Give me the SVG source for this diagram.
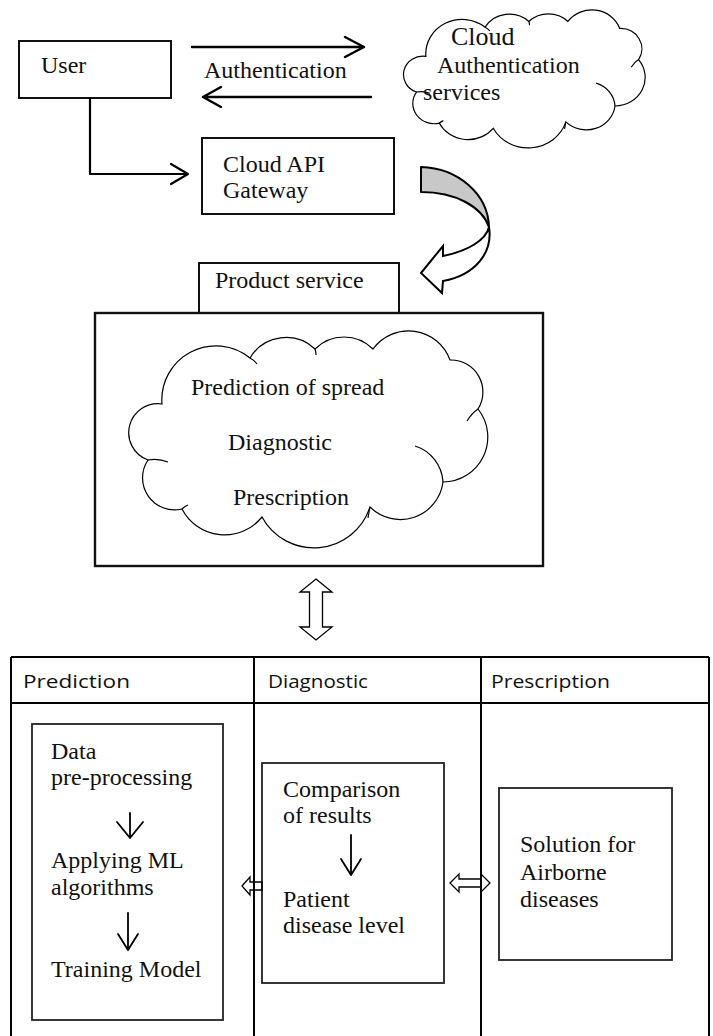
<svg xmlns="http://www.w3.org/2000/svg" xmlns:xlink="http://www.w3.org/1999/xlink" width="713" height="1036" viewBox="0 0 713 1036">
<style>
.serif{font-family:"Liberation Serif","Times New Roman",serif;font-size:24px;fill:#111}
.sans{font-family:"Open Sans","Noto Sans",sans-serif;font-size:18px;fill:#111}
.box{fill:#fff;stroke:#111;stroke-width:2}
.ibox{fill:#fff;stroke:#222;stroke-width:1.8}
.line{fill:none;stroke:#000;stroke-width:2.4;stroke-linecap:round;stroke-linejoin:round}
.thin{fill:none;stroke:#000;stroke-width:1.8;stroke-linecap:round;stroke-linejoin:round}
.cl{fill:#fff;stroke:#000;stroke-width:1.2;vector-effect:non-scaling-stroke}
.cls{fill:none;stroke:#000;stroke-width:1.2;vector-effect:non-scaling-stroke}
.block{fill:none;stroke:#000;stroke-width:1.3;stroke-linejoin:miter}
.grid{fill:none;stroke:#000;stroke-width:2}
</style>
<defs>
<g id="cloudShape">
<path class="cl" d="M162,404 A54,54 0 0 1 250,358 A42,42 0 0 1 315,349 A41,41 0 0 1 373,349 A44,44 0 0 1 450,360 A32,32 0 0 1 478,409 A45,45 0 0 1 443,482 A43,43 0 0 1 370,507 A59,59 0 0 1 262,517 A48,48 0 0 1 182,509 A32,32 0 0 1 148,460 A29,29 0 0 1 162,404 Z"/>
<path class="cls" d="M415,446 A40,40 0 0 1 443,482 M148,460 Q158,458 168,462 M182,509 Q185,506 188,505 M250,358 Q254,360 257,364 M478,409 Q472,413 467,421 M370,507 Q369,512 368,518 M315,349 Q316,352 316,355"/>
</g>
</defs>

<g id="user">
<rect class="box" x="19" y="41" width="152" height="57"/>
<text class="serif" x="41" y="73">User</text>
</g>

<g id="auth-cloud">
<use xlink:href="#cloudShape" transform="translate(403,10) scale(0.6731,0.6359) translate(-128,-331)"/>
<text class="serif" x="451" y="45" style="font-size:26px">Cloud</text>
<text class="serif" x="437" y="73">Authentication</text>
<text class="serif" x="423" y="100">services</text>
</g>

<g id="gateway">
<rect class="box" x="202" y="138" width="192" height="76"/>
<text class="serif" x="223" y="172">Cloud API</text>
<text class="serif" x="223" y="198">Gateway</text>
</g>

<g id="product-service">
<rect class="box" x="199" y="263" width="200" height="50"/>
<text class="serif" x="215" y="288">Product service</text>
<rect class="box" x="95" y="313" width="448" height="253" style="stroke-width:2.4"/>
<use xlink:href="#cloudShape"/>
<text class="serif" x="191" y="395">Prediction of spread</text>
<text class="serif" x="228" y="450">Diagnostic</text>
<text class="serif" x="233" y="505">Prescription</text>
</g>

<g id="table">
<path class="grid" d="M11,657 H709 M11,703 H709 M11,657 V1040 M709,657 V1040 M254,657 V1040 M481,657 V1040"/>
<text class="sans" x="23" y="688" textLength="107" lengthAdjust="spacingAndGlyphs">Prediction</text>
<text class="sans" x="268" y="688" textLength="100" lengthAdjust="spacingAndGlyphs">Diagnostic</text>
<text class="sans" x="491" y="688" textLength="119" lengthAdjust="spacingAndGlyphs">Prescription</text>
</g>

<g id="prediction-box">
<rect class="ibox" x="32" y="724" width="191" height="296"/>
<text class="serif" x="51" y="759">Data</text>
<text class="serif" x="51" y="785">pre-processing</text>
<text class="serif" x="51" y="868">Applying ML</text>
<text class="serif" x="51" y="895">algorithms</text>
<text class="serif" x="51" y="977">Training Model</text>
</g>

<g id="diagnostic-box">
<rect class="ibox" x="262" y="763" width="182" height="220"/>
<text class="serif" x="283" y="797">Comparison</text>
<text class="serif" x="283" y="823">of results</text>
<text class="serif" x="283" y="907">Patient</text>
<text class="serif" x="283" y="933">disease level</text>
</g>

<g id="prescription-box">
<rect class="ibox" x="499" y="788" width="173" height="172"/>
<text class="serif" x="520" y="852">Solution for</text>
<text class="serif" x="520" y="880">Airborne</text>
<text class="serif" x="520" y="907">diseases</text>
</g>

<g id="connectors">
<path class="line" d="M192,47 H364 M345,37 L364,47 L345,57"/>
<path class="line" d="M371,97 H203 M221,87 L203,97 L221,107"/>
<text class="serif" x="204" y="78">Authentication</text>
<path class="thin" d="M90,98 V174 H188 M171,164 L188,174 L171,184" style="stroke-width:2.2"/>
<path d="M421,167 C458,168 488,194 489,227 C482,207 456,192 421,192 Z" fill="#c8c8c8" stroke="#000" stroke-width="2" stroke-linejoin="round"/>
<path d="M489,227 C493,252 476,275 443,281 L442,293 L421,273 L443,246 L443,256 C468,251 486,240 489,227 Z" fill="#fff" stroke="#000" stroke-width="2" stroke-linejoin="miter"/>
<polygon class="block" points="316,579 332,592 322.5,592 322.5,627 332,627 316,640 300,627 309.5,627 309.5,592 300,592"/>
<polygon class="block" points="242,886 250,877 250,882 262,882 262,890 250,890 250,895"/>
<polygon class="block" points="450,883 459,874 459,879 481,879 481,874 490,883 481,892 481,887 459,887 459,892"/>
<path class="thin" d="M130,813 V838 M117,822 L130,838 L143,822"/>
<path class="thin" d="M128,913 V950 M118,934 L128,950 L138,934"/>
<path class="thin" d="M351,835 V875 M341,859 L351,875 L361,859"/>
</g>
</svg>
